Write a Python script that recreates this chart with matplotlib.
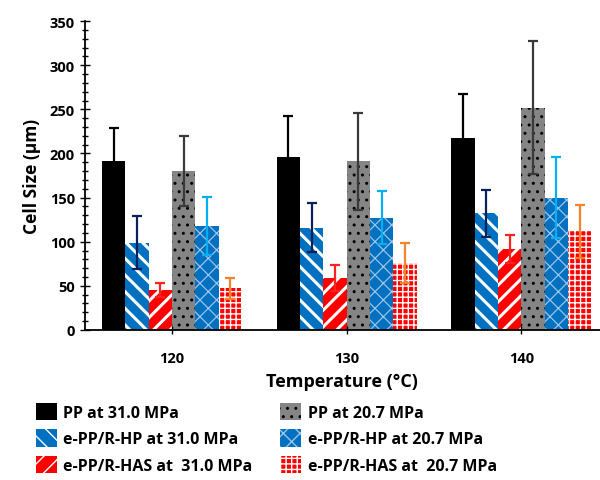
import matplotlib
matplotlib.use("Agg")
import matplotlib.pyplot as plt
import numpy as np
from matplotlib.ticker import MultipleLocator

plt.rcParams['font.family'] = ['Open Sans', 'DejaVu Sans']
plt.rcParams['font.weight'] = 'bold'

# dados
temps = ['120', '130', '140']
labels = ['PP at 31.0 MPa', 'e-PP/R-HP at 31.0 MPa', 'e-PP/R-HAS at  31.0 MPa',
          'PP at 20.7 MPa', 'e-PP/R-HP at 20.7 MPa', 'e-PP/R-HAS at  20.7 MPa']
pp_31 = [191, 196, 218]
pp_31_err = [38, 47, 49]
hp_31 = [99, 116, 132]
hp_31_err = [30, 28, 27]
has_31 = [45, 59, 92]
has_31_err = [8, 15, 16]
pp_20 = [180, 191, 252]
pp_20_err = [40, 55, 75]
hp_20 = [118, 127, 150]
hp_20_err = [33, 30, 46]
has_20 = [47, 76, 112]
has_20_err = [12, 23, 30]

series = [pp_31, hp_31, has_31, pp_20, hp_20, has_20]
errors = [pp_31_err, hp_31_err, has_31_err, pp_20_err, hp_20_err, has_20_err]

# estilos: cor de fundo, cor do padrao, padrao, espessura do padrao, cor da barra de erro
styles = [
    ('black', 'black', None, 1.0, 'black'),
    ('#0070c0', 'white', '\\\\', 2.2, '#0b1f5c'),
    ('#ff0000', 'white', '//', 2.2, '#ff2020'),
    ('#858585', 'black', '..', 1.0, '#3a3a3a'),
    ('#0070c0', '#9dc3e6', 'xx', 0.9, '#00b0f0'),
    ('#ff0000', 'white', '+++', 1.0, '#f5832a'),
]

fig = plt.figure(figsize=(6, 4.81), dpi=100)
ax = fig.add_axes([0.141, 0.312, 0.859, 0.642])

x = np.arange(len(temps))
w = 0.8 / 6
handles = []
for i in range(6):
    fc, hc, hatch, hlw, ec = styles[i]
    with plt.rc_context({'hatch.linewidth': hlw}):
        b = ax.bar(x + (i - 2.5) * w, series[i], w, color=fc, edgecolor=hc,
                   hatch=hatch, linewidth=0, label=labels[i])
    ax.errorbar(x + (i - 2.5) * w, series[i], yerr=errors[i], fmt='none',
                ecolor=ec, elinewidth=1.6, capsize=3.5, capthick=1.6)
    handles.append(b)

ax.set_xlim(-0.5, 2.45)
ax.set_ylim(0, 350)
ax.yaxis.set_major_locator(MultipleLocator(50))
ax.yaxis.set_minor_locator(MultipleLocator(10))
ax.tick_params(axis='y', which='major', direction='inout', length=7, width=1, labelsize=10.5)
ax.tick_params(axis='y', which='minor', direction='inout', length=5, width=1)
ax.set_xticks(x)
ax.set_xticklabels(temps)
ax.tick_params(axis='x', direction='inout', length=6, width=1, labelsize=10.5, pad=12)

for s in ['top', 'right']:
    ax.spines[s].set_visible(False)
ax.spines['left'].set_linewidth(1.3)
ax.spines['bottom'].set_linewidth(1.3)

ax.set_ylabel('Cell Size (µm)', fontsize=12.5, fontweight='bold', labelpad=6)
ax.set_xlabel('Temperature (°C)', fontsize=13, fontweight='bold', labelpad=5)

fig.legend(handles=handles, labels=labels, ncol=2, loc='upper left',
           bbox_to_anchor=(0.06, 0.16), frameon=False, fontsize=11.5,
           handlelength=1.3, handleheight=1.3, handletextpad=0.4,
           labelspacing=0.52, columnspacing=1.75, borderaxespad=0, borderpad=0)

plt.savefig('out.png', dpi=100)
